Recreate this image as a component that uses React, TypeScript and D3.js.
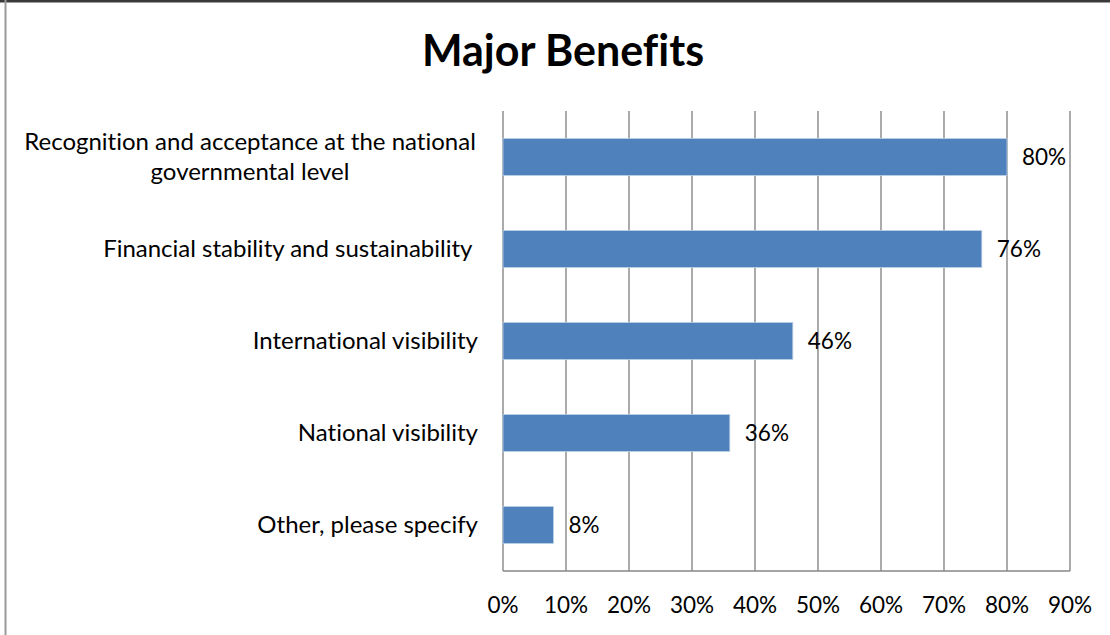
import React from "react";
import * as d3 from "d3";

const categories = [
  "Recognition and acceptance at the national governmental level",
  "Financial stability and sustainability",
  "International visibility",
  "National visibility",
  "Other, please specify",
];
// label lines as they wrap in the original (the second one keeps its trailing space)
const labelLines = [
  ["Recognition and acceptance at the national", "governmental level"],
  ["Financial stability and sustainability "],
  ["International visibility"],
  ["National visibility"],
  ["Other, please specify"],
];
const values = [0.8, 0.76, 0.46, 0.36, 0.08];
const xTicks = [0, 0.1, 0.2, 0.3, 0.4, 0.5, 0.6, 0.7, 0.8, 0.9];

const W = 1110;
const H = 635;
const FONT = "Lato, 'Open Sans', sans-serif";

export default function App() {
  const x = d3.scaleLinear().domain([0, 0.9]).range([503, 1070]);
  const y = d3.scaleBand<string>().domain(categories).range([111, 571]);
  const barH = y.bandwidth() * 0.4;
  const pct = d3.format(".0%");

  return (
    <svg
      width={W}
      height={H}
      style={{
        position: "absolute",
        left: 0,
        top: 0,
        background: "#fff",
        fontVariantLigatures: "none",
      }}
      fontFamily={FONT}
    >
      {/* frame bits */}
      <rect x={0} y={0} width={W} height={2.5} fill="#3a3a3a" />
      <line x1={5.5} y1={0} x2={5.5} y2={H} stroke="#9a9a9a" strokeWidth={2} />

      <text x={563} y={66} textAnchor="middle" fontSize={43} fontWeight="bold" fill="#000">
        Major Benefits
      </text>

      {/* gridlines */}
      {xTicks.map((t) => (
        <line
          key={t}
          x1={x(t)}
          x2={x(t)}
          y1={y.range()[0]}
          y2={y.range()[1]}
          stroke="#878787"
          strokeWidth={1.4}
        />
      ))}
      <line x1={x(0)} x2={x(0.9)} y1={571} y2={571} stroke="#878787" strokeWidth={1.4} />

      {/* tick labels */}
      {xTicks.map((t) => (
        <text key={t} x={x(t)} y={613} textAnchor="middle" fontSize={22.5} fill="#000">
          {pct(t)}
        </text>
      ))}

      {/* bars */}
      {categories.map((c, i) => {
        const cy = (y(c) as number) + y.bandwidth() / 2;
        return (
          <g key={c}>
            <rect
              x={x(0)}
              y={cy - barH / 2}
              width={x(values[i]) - x(0)}
              height={barH}
              fill="#4F81BD"
              stroke="#B9CDE5"
              strokeWidth={0.8}
            />
            <text x={x(values[i]) + 15} y={cy + 8} fontSize={22.5} fill="#000">
              {pct(values[i])}
            </text>
          </g>
        );
      })}

      {/* category labels */}
      {categories.map((c, i) => {
        const cy = (y(c) as number) + y.bandwidth() / 2;
        const lines = labelLines[i];
        const lh = 30;
        const first = cy + 8 - ((lines.length - 1) * lh) / 2;
        return (
          <text key={c} fontSize={24} fill="#000" textAnchor="end" style={{ whiteSpace: "pre" }}>
            {lines.map((ln, j) => (
              <tspan
                key={j}
                x={lines.length > 1 ? 250 : 478}
                y={first + j * lh}
                textAnchor={lines.length > 1 ? "middle" : "end"}
              >
                {ln}
              </tspan>
            ))}
          </text>
        );
      })}
    </svg>
  );
}
